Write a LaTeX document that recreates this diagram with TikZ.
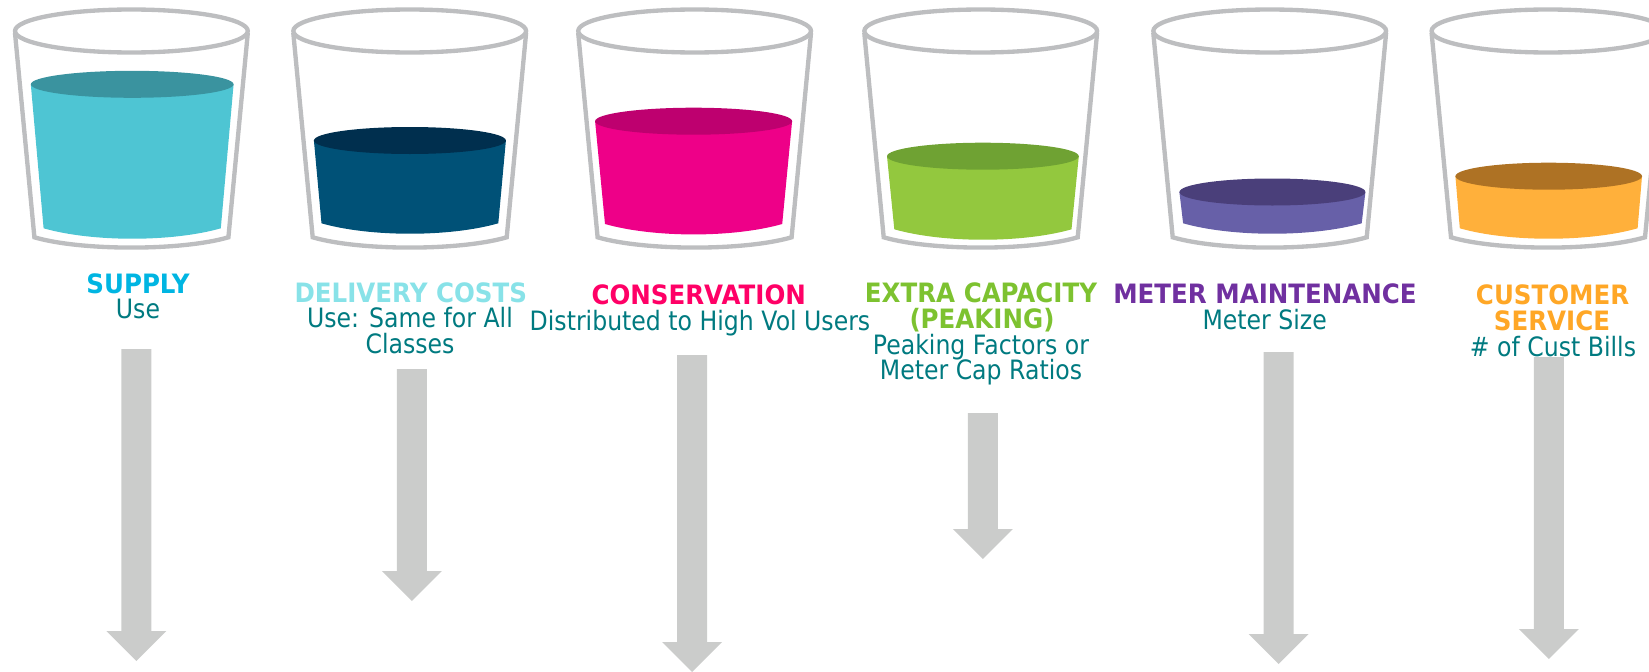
\documentclass[tikz,border=0pt]{standalone}
\usepackage{fontspec}
\setmainfont{DejaVu Sans}[FakeStretch=0.885,BoldFeatures={FakeStretch=0.92}]
\definecolor{glassgray}{HTML}{BDBEC0}
\definecolor{arrowgray}{HTML}{CBCCCB}
\definecolor{subteal}{HTML}{007A80}
\definecolor{supplyside}{HTML}{4EC5D3}
\definecolor{supplytop}{HTML}{3A939F}
\definecolor{supplytext}{HTML}{00B5E2}
\definecolor{deliveryside}{HTML}{005177}
\definecolor{deliverytop}{HTML}{002F4E}
\definecolor{deliverytext}{HTML}{88E2E8}
\definecolor{conservside}{HTML}{EE0088}
\definecolor{conservtop}{HTML}{BE006F}
\definecolor{conservtext}{HTML}{FF0066}
\definecolor{extraside}{HTML}{93C83E}
\definecolor{extratop}{HTML}{6FA233}
\definecolor{extratext}{HTML}{7DC230}
\definecolor{meterside}{HTML}{6760A8}
\definecolor{metertop}{HTML}{4A3F7A}
\definecolor{metertext}{HTML}{7030A0}
\definecolor{customerside}{HTML}{FFB03B}
\definecolor{customertop}{HTML}{AE7224}
\definecolor{customertext}{HTML}{FFA726}
\tikzset{
    headline/.style={anchor=base, inner sep=0pt, font=\fontsize{16}{16}\selectfont\bfseries},
    subline/.style={anchor=base, inner sep=0pt, text=subteal, font=\fontsize{16}{16}\selectfont},
    glassline/.style={draw=glassgray, line width=2.6pt}
}
\begin{document}
\begin{tikzpicture}[x=0.6pt,y=-0.6pt]
    \useasboundingbox (0,0) rectangle (1649,671);
    \clip (0,0) rectangle (1649,671);

    % Down arrows behind the text
    \foreach \ax/\atop/\ahead in {136.4/349/631, 411.8/369/571, 692/355/642, 982.9/413/529, 1278.6/352/634, 1548.9/357/629} {
        \begin{scope}[shift={(\ax,0)}]
            \fill[arrowgray] (-15,\atop) -- (15,\atop) -- (15,\ahead) -- (30,\ahead)
            -- (0,\ahead+30) -- (-30,\ahead) -- (-15,\ahead) -- cycle;
        \end{scope}
    }

    % Liquid: centre, top half width, level, bottom half width, bottom level
    \foreach \lx/\lw/\ly/\bw/\by/\cside/\ctop in {
        132.2/101.4/84.3/88.6/228.3/supplyside/supplytop,
        409.9/96/140.5/88.4/223.3/deliveryside/deliverytop,
        693.6/98.5/121.2/88.6/224/conservside/conservtop,
        982.9/95.9/156.2/88.6/229.3/extraside/extratop,
        1272.4/93/192/89.3/223.3/meterside/metertop,
        1548.7/93.3/176.2/88.9/228.3/customerside/customertop} {
        \begin{scope}[shift={(\lx,0)}]
            \fill[\cside] (-\lw,\ly) -- (-\bw,\by)
            .. controls (-0.45*\bw,\by+13.9) and (0.45*\bw,\by+13.9) .. (\bw,\by)
            -- (\lw,\ly) -- cycle;
            \fill[\ctop] (0,\ly) ellipse [x radius=\lw, y radius=13.5];
        \end{scope}
    }

    % Glasses
    \foreach \gx in {131.4, 409.7, 694.6, 980.7, 1269.7, 1548} {
        \begin{scope}[shift={(\gx,0)}]
            \draw[glassline] (0,31) ellipse [x radius=116.4, y radius=21.5];
            \draw[glassline] (-116.4,33) -- (-97,237.3)
            .. controls (-50,251) and (50,251) .. (97,237.3) -- (116.4,33);
        \end{scope}
    }

    % Headlines
    \foreach \nx/\ny/\nname/\ncol/\ntext in {
        138/293.3/supply/supplytext/SUPPLY,
        410.8/302.7/delivery/deliverytext/DELIVERY COSTS,
        698.7/304/conservation/conservtext/CONSERVATION,
        981/302.7/extra/extratext/EXTRA CAPACITY,
        982/328/peaking/extratext/(PEAKING),
        1265/303.3/meter/metertext/METER MAINTENANCE,
        1552.6/304/customer/customertext/CUSTOMER,
        1552/330/service/customertext/SERVICE} {
        \node[headline, text=\ncol] (\nname) at (\nx,\ny) {\ntext};
    }

    % Lines below the headlines
    \foreach \nx/\ny/\nname/\ntext in {
        138/318.7/supplyuse/Use,
        410/327.7/deliveryuse/Use: Same for All,
        410/353/deliveryclass/Classes,
        700/330/conservuse/Distributed to High Vol Users,
        981/354.3/extrafactor/Peaking Factors or,
        981/379/extraratio/Meter Cap Ratios,
        1264.7/329/metersize/Meter Size,
        1553/356.7/customerbills/\# of Cust Bills} {
        \node[subline] (\nname) at (\nx,\ny) {\ntext};
    }
\end{tikzpicture}
\end{document}
